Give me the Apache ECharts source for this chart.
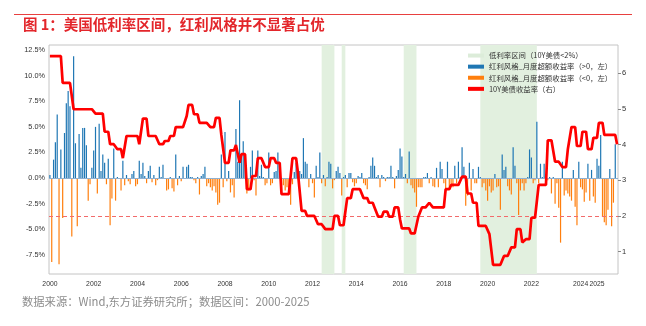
<!DOCTYPE html>
<html>
<head>
<meta charset="utf-8">
<script src="https://cdn.jsdelivr.net/npm/echarts@6/dist/echarts.min.js"></script>
<style>
  html, body { margin: 0; padding: 0; background: #fff; }
  #chart { width: 646px; height: 326px; }
</style>
</head>
<body>
<div id="chart"></div>
<script>
// Monthly categories, 2000-01 .. 2025-12
const months = [];
for (let y = 2000; y <= 2025; y++) {
  for (let m = 1; m <= 12; m++) months.push(y + '-' + String(m).padStart(2, '0'));
}

// Dividend style monthly excess return (%), one value per month
const excessReturn = [
  0.3, -8.2, 1.8, 3.5, 6.2, -8.4, 2.8, -3.9, 4.4, 7.3, 8.5, 7.0,
  -5.7, 11.9, 3.4, -4.7, 4.3, 1.0, 4.9, 4.9, 3.2, -2.2, -0.6, 1.0,
  2.7, 5.0, -1.5, 5.3, 0.7, 2.3, 1.5, -0.6, 1.9, -4.6, -2.0, 2.9,
  -2.2, 0.1, -0.1, -1.2, 1.7, -0.7, 0.3, -0.3, -0.6, 0.4, 0.7, -0.8,
  -0.6, 1.7, 0.4, 1.5, 0.2, -0.5, 0.7, 1.2, -0.4, 0.3, -0.7, -0.2,
  1.1, 0.1, 1.3, -0.1, -1.2, -1.1, 0.1, -1.0, -1.3, 2.3, -0.7, 0.2,
  -0.3, 1.1, -0.1, 1.1, 1.3, 0.1, 0.1, -0.2, -0.5, 0.1, -1.6, 0.2,
  0.4, 1.1, -0.8, -0.5, -0.9, -1.2, -0.8, -1.4, -2.6, -2.4, 2.3, -0.9,
  4.5, -0.3, 0.7, -1.4, -0.7, -1.9, 4.8, 1.6, 7.6, 2.2, 3.6, 2.4,
  -1.5, -1.2, 1.1, 2.7, -0.2, -1.7, 2.7, 0.2, 1.3, 0.1, -0.7, -0.5,
  2.5, -0.7, -0.5, 0.6, 0.7, 2.5, 1.4, -1.2, -0.7, -1.2, -0.9, -1.4,
  -2.6, -0.6, 0.6, 1.5, 0.1, 0.7, 0.4, 3.9, 1.6, 1.4, -0.9, 0.4,
  -0.5, -1.9, 1.2, 0.1, 2.5, -0.5, 0.3, -0.8, 0.1, 1.6, 1.4, -1.0,
  -0.2, 0.7, 1.1, 0.5, -1.7, 0.1, 0.3, -0.9, 0.5, 0.5, -0.4, -0.8,
  -0.5, 0.2, 0.1, 0.5, -0.5, -0.7, -1.1, 0.1, 1.2, 2.0, 1.2, 0.1,
  0.3, -0.9, 0.3, 0.1, -0.3, 0.1, 0.1, 1.2, 0.1, -1.0, 0.2, 0.8,
  2.9, 2.1, 0.1, 0.4, -0.5, 2.6, -0.7, -1.0, -1.4, -2.8, -0.9, -0.9,
  -0.9, 0.1, 0.1, 0.5, -0.5, 0.1, -0.8, -0.9, 1.0, -0.9, 1.6, 0.9,
  -0.5, -1.2, 1.6, -1.1, -0.7, -0.9, 1.2, -0.5, 1.6, 0.1, 3.0, 1.1,
  -2.7, -1.7, 1.5, -1.2, 0.9, -0.5, -0.5, 1.1, 0.1, -0.9, -0.5, -1.2,
  -2.2, -0.8, -1.4, -1.2, 0.4, -0.9, -0.8, -3.1, 2.3, 0.8, 1.1, -0.8,
  -1.2, -1.6, 3.0, 1.2, -0.5, -3.6, -1.2, -0.5, -1.2, -0.5, 0.1, 2.8,
  2.0, -0.5, -0.2, 5.5, -0.5, 1.4, 0.1, 1.4, 0.1, -0.2, 0.1, -1.5,
  0.1, -2.5, -0.5, -2.9, -6.3, 1.6, -1.7, -1.2, -1.5, -1.8, -2.2, 0.8,
  -2.8, -4.6, 1.6, -0.9, -1.1, -2.3, -1.4, 1.4, -2.2, 0.8, -1.8, -2.4,
  1.9, 1.2, 4.2, -3.8, -4.3, -4.6, -3.1, 0.9, -4.7, -2.4, 3.3, null
];

// 10Y US Treasury yield (%), one value per month
const ust10y = [
  6.48, 6.48, 6.48, 6.48, 6.48, 6.48, 6.48, 5.73, 5.73, 5.73, 5.73, 5.73,
  5.73, 4.99, 4.99, 4.99, 4.99, 4.99, 4.99, 4.99, 4.99, 4.99, 4.99, 4.99,
  4.99, 4.87, 4.87, 4.87, 4.87, 4.87, 4.36, 4.36, 4.36, 4.01, 4.01, 4.01,
  4.01, 3.87, 3.87, 3.87, 3.62, 3.62, 4.24, 4.24, 4.24, 4.24, 4.24, 4.24,
  4.24, 4.01, 4.01, 4.73, 4.73, 4.73, 4.24, 4.24, 4.24, 4.24, 4.24, 4.24,
  4.01, 4.01, 4.01, 4.10, 4.10, 4.10, 4.24, 4.24, 4.24, 4.49, 4.49, 4.49,
  4.49, 4.49, 4.49, 4.80, 5.11, 5.11, 5.11, 4.85, 4.85, 4.85, 4.61, 4.61,
  4.61, 4.61, 4.61, 4.61, 4.49, 4.49, 4.49, 4.75, 4.75, 4.75, 4.27, 4.27,
  3.49, 3.49, 3.49, 3.84, 3.84, 3.84, 3.99, 3.99, 3.49, 3.73, 3.73, 3.73,
  2.75, 2.75, 2.75, 3.12, 3.12, 3.12, 3.62, 3.62, 3.62, 3.62, 3.37, 3.37,
  3.37, 3.62, 3.62, 3.62, 3.49, 3.49, 3.49, 2.61, 2.61, 2.61, 2.61, 2.61,
  2.61, 3.62, 3.62, 3.62, 3.21, 3.21, 2.14, 2.14, 2.14, 2.00, 2.00, 2.00,
  2.00, 2.00, 2.00, 1.77, 1.77, 1.77, 1.77, 1.63, 1.63, 1.63, 1.63, 1.63,
  2.00, 2.00, 2.00, 1.74, 1.74, 1.74, 1.74, 2.50, 2.50, 2.50, 2.75, 2.75,
  2.75, 2.75, 2.75, 2.75, 2.50, 2.50, 2.50, 2.37, 2.37, 2.37, 2.24, 2.24,
  1.98, 1.98, 1.98, 2.12, 2.12, 2.12, 1.98, 1.98, 1.98, 2.24, 2.24, 2.24,
  1.90, 1.65, 1.65, 1.65, 1.65, 1.65, 1.51, 1.51, 1.51, 1.51, 1.98, 1.98,
  2.24, 2.24, 2.24, 2.24, 2.37, 2.37, 2.24, 2.24, 2.24, 2.24, 2.24, 2.24,
  2.24, 2.75, 2.75, 2.75, 2.87, 2.87, 2.87, 2.87, 2.87, 2.87, 3.10, 3.10,
  3.10, 2.63, 2.63, 2.63, 2.37, 2.37, 2.37, 1.72, 1.72, 1.72, 1.72, 1.72,
  1.72, 1.49, 1.49, 0.63, 0.63, 0.63, 0.63, 0.63, 0.63, 0.88, 0.88, 0.88,
  0.88, 1.12, 1.12, 1.12, 1.63, 1.63, 1.63, 1.26, 1.26, 1.35, 1.35, 1.35,
  1.95, 1.95, 1.95, 1.95, 2.87, 2.87, 2.87, 2.87, 2.87, 4.12, 4.12, 4.12,
  4.12, 3.52, 3.52, 3.52, 3.52, 3.37, 3.37, 3.37, 3.87, 3.87, 4.49, 4.49,
  4.49, 3.96, 3.96, 3.96, 4.36, 4.36, 4.36, 3.87, 3.87, 3.87, 4.19, 4.19,
  4.19, 4.61, 4.61, 4.61, 4.27, 4.27, 4.27, 4.27, 4.27, 4.27, 4.27, 4.01
];

// Low-rate periods (10Y < 2%), first and last month of each span
const lowRateSpans = [
  ['2012-06', '2013-01'],
  ['2013-05', '2013-07'],
  ['2016-03', '2016-10'],
  ['2019-09', '2022-04']
];

// X-axis tick positions (months) and their labels
const xTickMonths = ['2000-01', '2002-01', '2004-01', '2006-01', '2008-01', '2010-01',
  '2012-01', '2014-01', '2016-01', '2018-01', '2020-01', '2022-01', '2024-04', '2025-01'];
const xTickLabels = ['2000', '2002', '2004', '2006', '2008', '2010',
  '2012', '2014', '2016', '2018', '2020', '2022', '2024', '2025'];

const leftTicks = [-7.5, -5, -2.5, 0, 2.5, 5, 7.5, 10, 12.5];
const rightTicks = [1, 2, 3, 4, 5, 6];
const lowRateThreshold = 2;

const names = {
  band: '低利率区间（10Y美债<2%）',
  pos: '红利风格_月度超额收益率（>0，左）',
  neg: '红利风格_月度超额收益率（<0，左）',
  ust: '10Y美债收益率（右）'
};

const CJK = '"Noto Sans CJK SC", "Liberation Sans", sans-serif';
const NUM = '"Liberation Sans", "Noto Sans CJK SC", sans-serif';

// Tick labels are split over two stacked bottom axes (alternating) so that
// the closely spaced 2024 / 2025 labels are both kept by the overlap check.
const tickLabelA = {};
const tickLabelB = {};
xTickMonths.forEach((m, k) => { (k % 2 === 0 ? tickLabelA : tickLabelB)[m] = xTickLabels[k]; });

const posData = excessReturn.map(v => (v != null && v > 0 ? v : null));
const negData = excessReturn.map(v => (v != null && v < 0 ? v : null));

function monthAxis(labelMap) {
  return {
    type: 'category',
    data: months,
    boundaryGap: true,
    position: 'bottom',
    offset: 0,
    axisLine: { show: false },
    axisTick: { show: false },
    splitLine: { show: false },
    axisLabel: {
      interval: (idx, val) => labelMap[val] !== undefined,
      formatter: val => labelMap[val] || '',
      fontSize: 6.8, color: '#333', margin: 7, fontFamily: NUM
    }
  };
}

const chart = echarts.init(document.getElementById('chart'), null, { renderer: 'canvas' });

chart.setOption({
  animation: false,
  backgroundColor: '#ffffff',
  textStyle: { fontFamily: NUM },
  title: [
    {
      text: '图 1：美国低利率区间，红利风格并不显著占优',
      left: 23, top: 17, padding: 0,
      textStyle: { color: '#e3262b', fontSize: 14.5, fontWeight: 'bold', fontFamily: CJK }
    },
    {
      text: '数据来源：Wind,东方证券研究所；数据区间：2000-2025',
      left: 22, top: 296, padding: 0,
      textStyle: { color: '#8c8c8c', fontSize: 11.3, fontWeight: 'normal', fontFamily: CJK }
    }
  ],
  graphic: [
    { type: 'line', shape: { x1: 14, y1: 14.5, x2: 632, y2: 14.5 },
      style: { stroke: '#e8403f', lineWidth: 1 }, silent: true }
  ],
  legend: {
    orient: 'vertical',
    left: 468, top: 51,
    padding: 0,
    itemWidth: 16, itemHeight: 4, itemGap: 2,
    textStyle: { fontSize: 7.4, lineHeight: 9.1, color: '#333', fontFamily: CJK },
    data: [
      { name: names.band, icon: 'rect', itemStyle: { color: '#dcecd9' } },
      { name: names.pos, icon: 'rect' },
      { name: names.neg, icon: 'rect' },
      { name: names.ust, icon: 'rect' }
    ],
    selectedMode: false
  },
  grid: {
    left: 49, right: 28, top: 45, bottom: 52,
    show: true, borderColor: '#c4c4c4', borderWidth: 1, backgroundColor: 'transparent'
  },
  xAxis: [monthAxis(tickLabelA), monthAxis(tickLabelB)],
  yAxis: [
    {
      type: 'value', position: 'left',
      min: -9.36, max: 12.99,
      axisLine: { show: false },
      axisTick: { show: false },
      splitLine: { show: false },
      axisLabel: {
        customValues: leftTicks,
        formatter: v => v.toFixed(1) + '%',
        fontSize: 7.3, color: '#333', margin: 4, fontFamily: NUM
      }
    },
    {
      type: 'value', position: 'right',
      min: 0.374, max: 6.79,
      axisLine: { show: false },
      axisTick: { show: true, customValues: rightTicks, length: 3, lineStyle: { color: '#888' } },
      splitLine: { show: false },
      axisLabel: {
        customValues: rightTicks,
        formatter: v => String(v),
        fontSize: 7.5, color: '#333', margin: 4, fontFamily: NUM
      }
    }
  ],
  series: [
    {
      name: names.band,
      type: 'line',
      data: [],
      itemStyle: { color: '#dcecd9' },
      z: 0,
      markArea: {
        silent: true,
        itemStyle: { color: '#e2f0df' },
        data: lowRateSpans.map(([a, b]) => [{ xAxis: a }, { xAxis: b }])
      }
    },
    {
      name: names.pos,
      type: 'bar',
      data: posData,
      barWidth: 1.2,
      barGap: '-100%',
      itemStyle: { color: '#1f77b4' },
      z: 2,
      markLine: {
        silent: true, symbol: 'none', label: { show: false },
        lineStyle: { color: '#8fb0d0', width: 1, type: 'solid' },
        data: [{ yAxis: 0 }]
      }
    },
    {
      name: names.neg,
      type: 'bar',
      data: negData,
      barWidth: 1.2,
      barGap: '-100%',
      itemStyle: { color: '#ff7f0e' },
      z: 2
    },
    {
      name: names.ust,
      type: 'line',
      yAxisIndex: 1,
      data: ust10y,
      symbol: 'none',
      lineStyle: { color: '#ff0000', width: 2.7 },
      itemStyle: { color: '#ff0000' },
      z: 5,
      markLine: {
        silent: true, symbol: 'none', label: { show: false },
        lineStyle: { color: '#f26b6b', width: 1, type: [4, 3] },
        data: [{ yAxis: lowRateThreshold }]
      }
    }
  ]
});
</script>
</body>
</html>
